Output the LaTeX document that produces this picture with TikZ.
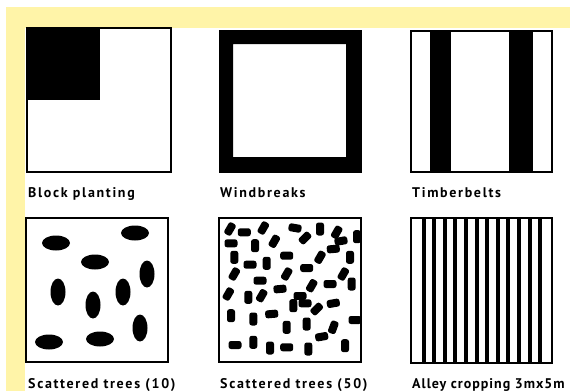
\documentclass[tikz,border=0pt]{standalone}
\usepackage{fontspec}
\setmainfont{PT Sans}
\usetikzlibrary{shapes.geometric}
\definecolor{paleyellow}{RGB}{255,244,168}
\newfontfamily\lblfont[LetterSpace=12]{PT Sans Bold}
\newfontfamily\lbltightfont[LetterSpace=7]{PT Sans Bold}
\tikzset{
  frame/.style={draw=black, line width=1.6pt},
  lbl/.style={anchor=base west, inner sep=0pt, font=\fontsize{14}{16}\lblfont},
  lbltight/.style={lbl, font=\fontsize{14}{16}\lbltightfont},
  bigtree/.style={ellipse, fill=black, inner sep=0pt},
  htree/.style={bigtree, minimum width=28pt, minimum height=15pt},
  vtree/.style={bigtree, minimum width=15pt, minimum height=27pt},
  smalltree/.style={rectangle, rounded corners=2.5pt, fill=black, inner sep=0pt, minimum width=13pt, minimum height=8pt},
  alley/.style={fill=black}
}
\begin{document}
\begin{tikzpicture}[x=1pt,y=-1pt]
\useasboundingbox (0,0) rectangle (570,391);
\fill[white] (0,0) rectangle (570,391);
% yellow border
\fill[paleyellow] (6,7) rectangle (570,28);
\fill[paleyellow] (6,7) rectangle (25,391);

% Box 1: block planting
\fill[black] (27,28) rectangle (100,100);
\draw[frame] (27,28) rectangle (171,172);
\node[lbl] (l1) at (28,197) {Block planting};

% Box 2: windbreaks
\fill[black, even odd rule] (219,30) rectangle (361,172) (233,44) rectangle (346,157);
\draw[frame, line width=1pt] (219,30) rectangle (361,172);
\node[lbl] (l2) at (220,197) {Windbreaks};

% Box 3: timberbelts
\fill[black] (430,31) rectangle (451,172);
\fill[black] (509,31) rectangle (533,172);
\draw[frame] (411,31) rectangle (552,172);
\node[lbl] (l3) at (412,197) {Timberbelts};

% Box 4: scattered trees (10)
\draw[frame] (26,218) rectangle (168,362);
\node[htree] (t1) at (56,243) {};
\node[htree] (t2) at (135,233) {};
\node[htree] (t3) at (95,262) {};
\node[vtree] (t4) at (147,274) {};
\node[vtree] (t5) at (58,292) {};
\node[vtree] (t6) at (123,292) {};
\node[vtree] (t7) at (93,305) {};
\node[vtree] (t8) at (140,328) {};
\node[htree] (t9) at (49,342) {};
\node[htree] (t10) at (100,339) {};
\node[lbl] (l4) at (28,388) {Scattered trees (10)};

% Box 5: scattered trees (50)
\begin{scope}
\clip (219,218) rectangle (361,362);
\foreach \x/\y/\a [count=\i] in {
  230/229/60, 244.3/232.3/0, 263.3/228/60, 295/228/-10, 320/229/90, 336.7/232.3/60, 357/236.7/90,
  231/243.3/0, 255/245.7/90, 274.3/241.3/60, 305/238/45, 333.3/249/5,
  234.3/257.3/90, 250/264.7/0, 266.7/263.3/90, 286.7/255.7/0, 306.7/268/0, 320/257.3/60, 350/257.3/90,
  234.3/274/60, 260/280.7/0, 286.7/274/60, 343.3/274/60, 351.7/284/90, 311.7/285.7/60, 330/284/0,
  228.3/294/60, 248.3/297.3/90, 261.7/295.7/60, 280/289/5, 293.3/305.7/90, 305/303.3/0, 316.7/309/45, 333.3/303.3/10,
  231/315.7/90, 253.3/319/90, 271.7/314/5, 286.7/327.3/90, 306.7/324/90, 333.3/327.3/70, 355/320/0,
  235/345/0, 253.3/342.3/90, 270/348/90, 286.7/347.3/0, 308.3/349/90, 321.7/336.7/10, 345/345.7/90,
  300/296/0, 341/241/10}
  \node[smalltree, rotate=\a] (s\i) at (\x,\y) {};
\end{scope}
\draw[frame] (219,218) rectangle (361,362);
\node[lbl] (l5) at (220,388) {Scattered trees (50)};

% Box 6: alley cropping
\foreach \k in {0,...,11}
  \fill[alley] ({421.6+10.6*\k},218) rectangle ({425.6+10.6*\k},363);
\draw[frame] (411,218) rectangle (552,363);
\node[lbltight] (l6) at (412,388) {Alley cropping 3mx5m};
\end{tikzpicture}
\end{document}
